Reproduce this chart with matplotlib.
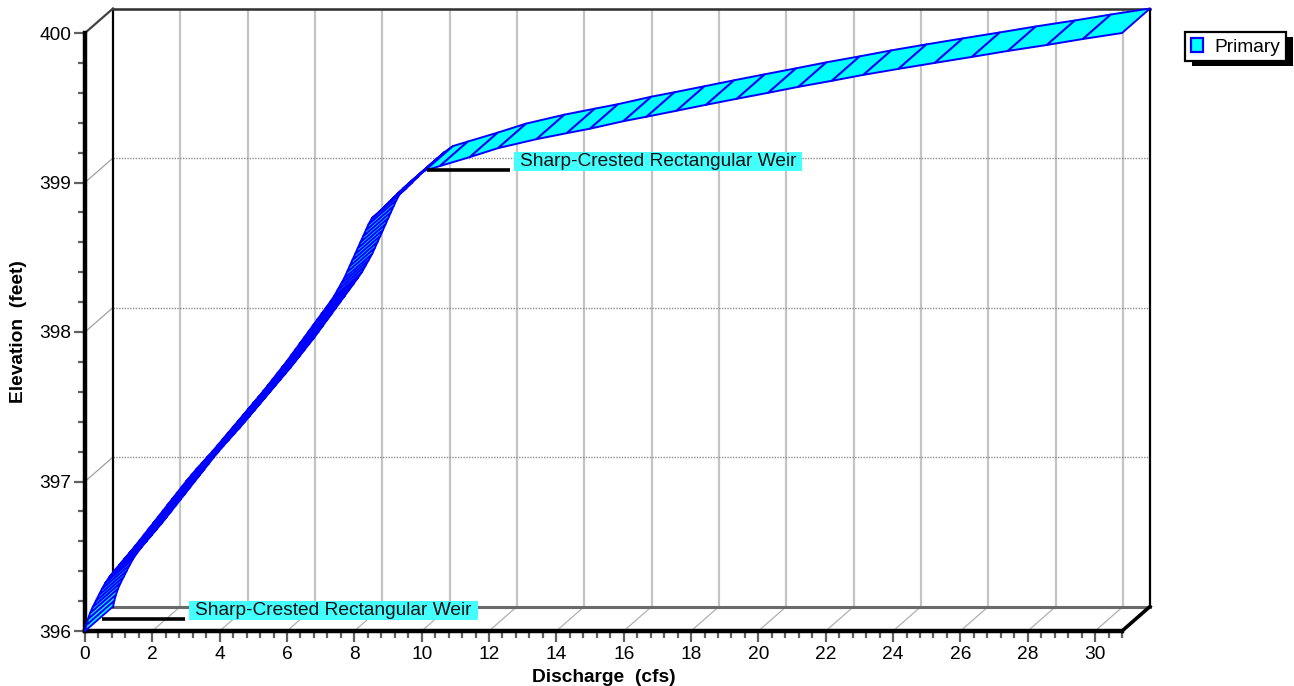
import matplotlib
matplotlib.use("Agg")
import matplotlib.pyplot as plt
import numpy as np
from matplotlib.collections import PolyCollection, LineCollection
from matplotlib.ticker import MultipleLocator
from matplotlib.patches import Rectangle, Patch
from matplotlib.transforms import ScaledTranslation, IdentityTransform

plt.rcParams['font.family'] = ['Liberation Sans', 'DejaVu Sans']

# ---------------- data ----------------
elevation_ft = [
    396.00, 396.04, 396.08, 396.12, 396.16, 396.20, 396.24, 396.28, 396.32, 396.36,
    396.40, 396.44, 396.48, 396.52, 396.56, 396.60, 396.64, 396.68, 396.72, 396.76,
    396.80, 396.84, 396.88, 396.92, 396.96, 397.00, 397.04, 397.08, 397.12, 397.16,
    397.20, 397.24, 397.28, 397.32, 397.36, 397.40, 397.44, 397.48, 397.52, 397.56,
    397.60, 397.64, 397.68, 397.72, 397.76, 397.80, 397.84, 397.88, 397.92, 397.96,
    398.00, 398.04, 398.08, 398.12, 398.16, 398.20, 398.24, 398.28, 398.32, 398.36,
    398.40, 398.44, 398.48, 398.52, 398.56, 398.60, 398.64, 398.68, 398.72, 398.76,
    398.80, 398.84, 398.88, 398.92, 398.96, 399.00, 399.04, 399.08,
    399.11, 399.17, 399.23, 399.29, 399.33, 399.36, 399.41, 399.44, 399.48, 399.52,
    399.56, 399.60, 399.64, 399.68, 399.72, 399.76, 399.80, 399.84, 399.88, 399.92,
    399.96, 400.00,
]
discharge_cfs = [
    0.00, 0.04, 0.09, 0.15, 0.23, 0.32, 0.41, 0.50, 0.60, 0.72,
    0.86, 1.01, 1.16, 1.31, 1.46, 1.60, 1.74, 1.88, 2.02, 2.16,
    2.30, 2.44, 2.58, 2.72, 2.86, 3.00, 3.15, 3.30, 3.46, 3.62,
    3.78, 3.93, 4.08, 4.23, 4.38, 4.53, 4.68, 4.83, 4.98, 5.13,
    5.28, 5.42, 5.56, 5.70, 5.84, 5.98, 6.11, 6.24, 6.37, 6.50,
    6.63, 6.76, 6.89, 7.02, 7.15, 7.28, 7.40, 7.50, 7.60, 7.70,
    7.78, 7.86, 7.94, 8.02, 8.10, 8.18, 8.26, 8.34, 8.42, 8.52,
    8.72, 8.90, 9.08, 9.26, 9.45, 9.65, 9.85, 10.10,
    10.54, 11.43, 12.27, 13.41, 14.31, 15.00, 15.99, 16.68, 17.57, 18.45,
    19.36, 20.29, 21.19, 22.18, 23.12, 24.16, 25.24, 26.34, 27.41, 28.57,
    29.64, 30.80,
]
series_name = "Primary"
weir_labels = ["Sharp-Crested Rectangular Weir", "Sharp-Crested Rectangular Weir"]
weir_elev_ft = [396.0, 399.0]
x_label = "Discharge  (cfs)"
y_label = "Elevation  (feet)"
x_max = 30.8
y_min, y_max = 396.0, 400.0

FS = 13.8

# ---------------- layout ----------------
W, H = 1294, 686
fig = plt.figure(figsize=(W / 100, H / 100), dpi=100)
L_px, R_px, T_px, B_px = 85, 1122, 33, 631
ax = fig.add_axes([L_px / W, 1 - B_px / H, (R_px - L_px) / W, (B_px - T_px) / H])
ax.set_xlim(0, x_max)
ax.set_ylim(y_min, y_max)
ax.patch.set_visible(False)
for s in ['top', 'right']:
    ax.spines[s].set_visible(False)
for s in ['left', 'bottom']:
    ax.spines[s].set_linewidth(3.2)
    ax.spines[s].set_color('black')
    ax.spines[s].set_zorder(4)
    ax.spines[s].set_capstyle('projecting')

ax.xaxis.set_major_locator(MultipleLocator(2))
ax.xaxis.set_minor_locator(MultipleLocator(0.4))
ax.yaxis.set_major_locator(MultipleLocator(1))
ax.yaxis.set_minor_locator(MultipleLocator(0.2))
ax.tick_params(which='major', length=8, width=1.6, color='#606060',
               labelsize=FS, pad=2)
ax.tick_params(axis='x', which='major', pad=3)
ax.tick_params(which='minor', length=5, width=1.6, color='#606060')
ax.set_xlabel(x_label, fontsize=FS, fontweight='bold', labelpad=4)
ax.set_ylabel(y_label, fontsize=FS, fontweight='bold', labelpad=9)

# depth offset (pixels) converted to data units
DX_PX, DY_PX = 28.0, 24.5
p0 = ax.transData.transform((0, y_min))
q0 = ax.transData.inverted().transform((p0[0] + DX_PX, p0[1] + DY_PX))
dx, dy = q0[0] - 0.0, q0[1] - y_min

# ---------------- 3D frame ----------------
xt = np.arange(2, 31, 2)
yt = np.arange(397, 401, 1)
ax.add_collection(LineCollection([[(x + dx, y_min + dy), (x + dx, y_max + dy)] for x in xt],
                                 colors='#c4c4c4', linewidths=1.6, zorder=1, clip_on=False))
ax.add_collection(LineCollection([[(dx, y + dy), (x_max + dx, y + dy)] for y in yt],
                                 colors='#8c8c8c', linewidths=1.0, linestyles=(0, (1, 1)),
                                 zorder=1, clip_on=False))
ax.add_collection(LineCollection([[(x, y_min), (x + dx, y_min + dy)] for x in xt],
                                 colors='#b0b0b0', linewidths=0.9, zorder=1, clip_on=False))
ax.add_collection(LineCollection([[(0, y), (dx, y + dy)] for y in yt[:-1]],
                                 colors='#a0a0a0', linewidths=0.9, zorder=1, clip_on=False))
ax.plot([dx, x_max + dx], [y_min + dy, y_min + dy], color='#6a6a6a', lw=2.2,
        zorder=1.5, clip_on=False)
ax.plot([dx, dx], [y_min + dy, y_max + dy], color='black', lw=1.6, zorder=2, clip_on=False)
ax.plot([dx, x_max + dx], [y_max + dy, y_max + dy], color='#303030', lw=1.8, zorder=2,
        clip_on=False)
ax.plot([x_max + dx, x_max + dx], [y_min + dy, y_max + dy], color='black', lw=1.6,
        zorder=2, clip_on=False)
ax.plot([0, dx], [y_max, y_max + dy], color='#404040', lw=1.6, zorder=2, clip_on=False)
ax.plot([x_max, x_max + dx], [y_min, y_min + dy], color='black', lw=2.6, zorder=2,
        clip_on=False, solid_capstyle='projecting')

# ---------------- ribbon ----------------
Q = np.asarray(discharge_cfs)
E = np.asarray(elevation_ft)
front = np.column_stack([Q, E])
back = front + np.array([dx, dy])
quads = [[front[i], front[i + 1], back[i + 1], back[i]] for i in range(len(Q) - 1)]
ax.add_collection(PolyCollection(quads, facecolors='#00FFFF', edgecolors='#0000FF',
                                 linewidths=1.4, zorder=5, clip_on=False))

# ---------------- weir annotations ----------------
px_per_x = (ax.transData.transform((1, y_min))[0] - p0[0])
line_len = 83.0 / px_per_x
fig.canvas.draw()
for lab, ew in zip(weir_labels, weir_elev_ft):
    qw = float(np.interp(ew, E, Q))
    xs = qw + dx / 2 + 3.0 / px_per_x
    ys = ew + dy / 2
    ax.plot([xs, xs + line_len], [ys, ys], color='black', lw=2.6, zorder=6,
            clip_on=False, solid_capstyle='butt')
    tr = ax.transData + ScaledTranslation(10 / 100, 8.5 / 100, fig.dpi_scale_trans)
    t = ax.text(xs + line_len, ys, lab, transform=tr, fontsize=FS, ha='left',
                va='center', zorder=8, color='#101010', clip_on=False)
    fig.canvas.draw()
    bb = t.get_window_extent()
    box = Rectangle((bb.x0 - 6, bb.y0 - 1), bb.width + 12, bb.height + 2,
                    transform=IdentityTransform(), facecolor='#44FFFF',
                    edgecolor='none', zorder=7, clip_on=False)
    ax.add_artist(box)

# ---------------- legend ----------------
handle = Patch(facecolor='#00FFFF', edgecolor='#0000FF', linewidth=1.6)
leg = fig.legend([handle], [series_name], loc='upper left',
                 bbox_to_anchor=(1185 / W, 1 - 32 / H), fontsize=FS,
                 frameon=True, fancybox=False, framealpha=1, edgecolor='black',
                 borderpad=0.3, handlelength=0.62, handleheight=0.8,
                 handletextpad=0.6, borderaxespad=0)
leg.get_frame().set_linewidth(1.6)
fig.canvas.draw()
lb = leg.get_window_extent()
fig.patches.append(Rectangle((lb.x0 + 7, lb.y0 - 5), lb.width, lb.height,
                             transform=IdentityTransform(), facecolor='black',
                             edgecolor='none', zorder=0))

fig.savefig("out.png", dpi=100)
